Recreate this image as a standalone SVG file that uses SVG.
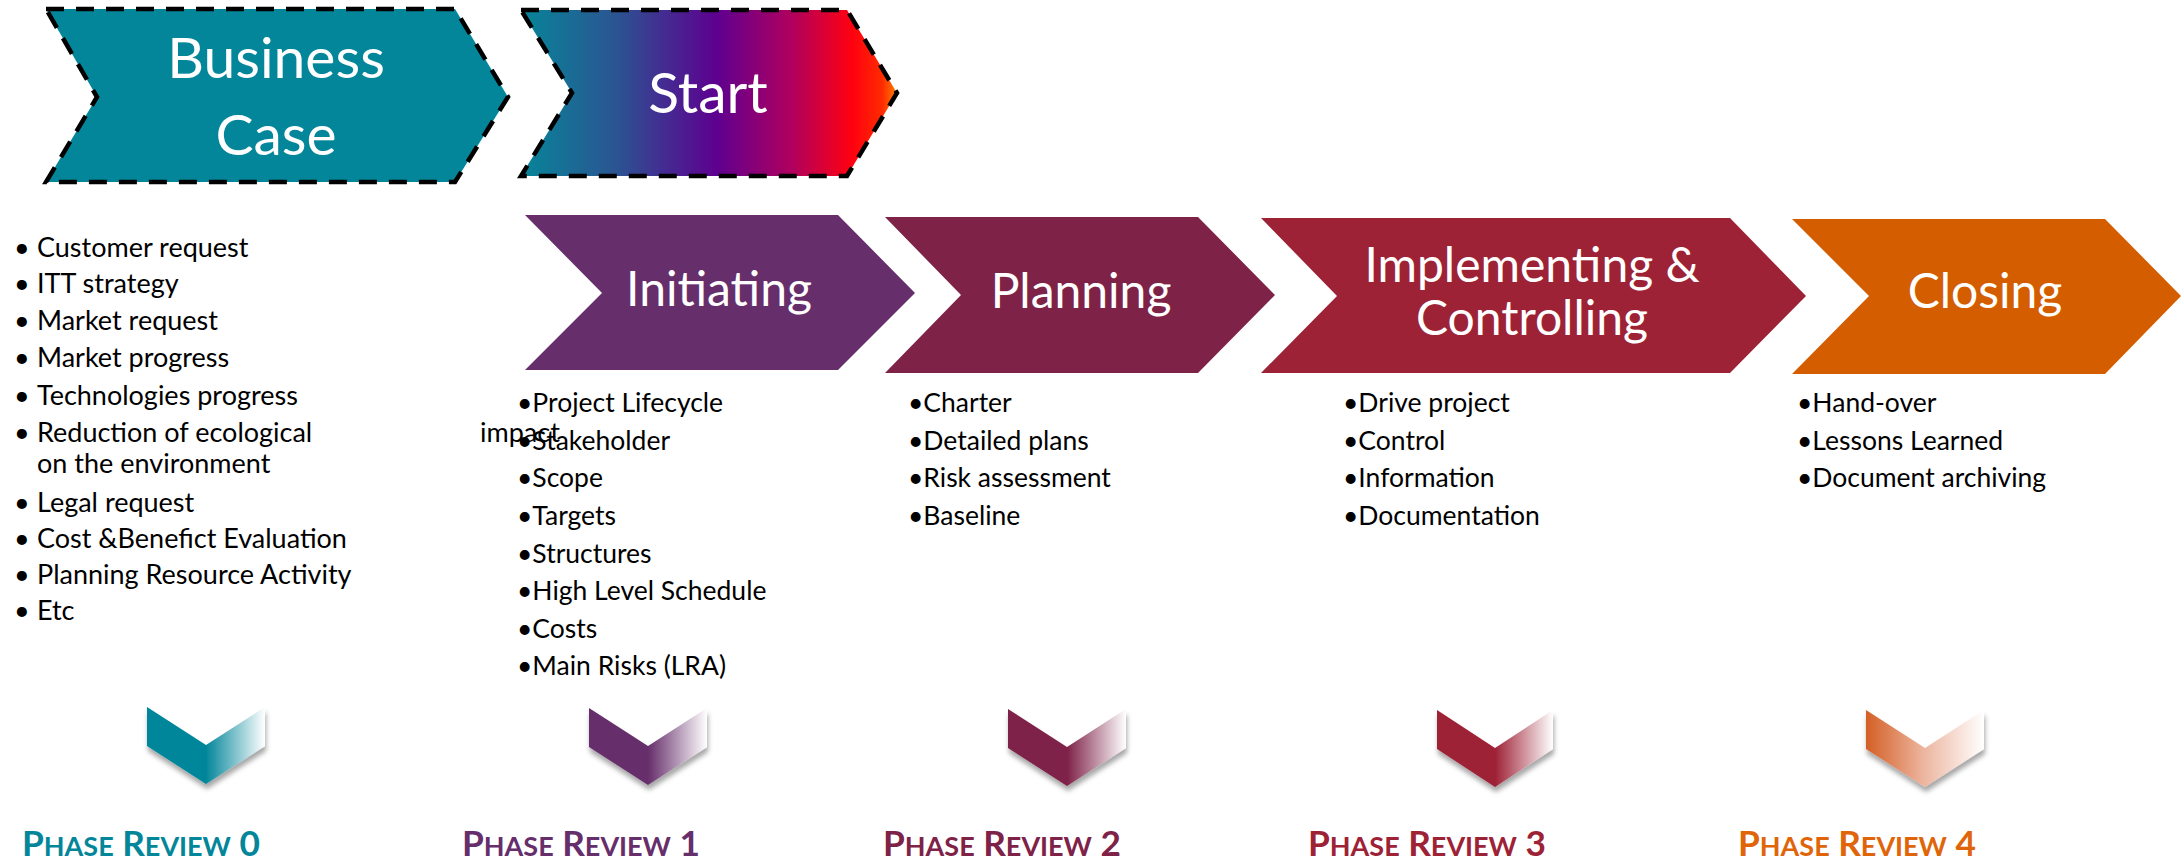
<svg xmlns="http://www.w3.org/2000/svg" width="2181" height="863" viewBox="0 0 2181 863">
<defs>
<linearGradient id="gStart" x1="0" y1="0" x2="1" y2="0">
<stop offset="0" stop-color="#078599"/>
<stop offset="0.25" stop-color="#2A5592"/>
<stop offset="0.52" stop-color="#5E0090"/>
<stop offset="0.72" stop-color="#B0005E"/>
<stop offset="0.88" stop-color="#FF0010"/>
<stop offset="0.96" stop-color="#FF2A00"/>
<stop offset="1" stop-color="#FF8000"/>
</linearGradient>
<linearGradient id="gPR0" x1="0" y1="0" x2="1" y2="0"><stop offset="0.5" stop-color="#03869A"/><stop offset="1" stop-color="#ffffff"/></linearGradient>
<linearGradient id="gPR1" x1="0" y1="0" x2="1" y2="0"><stop offset="0.5" stop-color="#662E6B"/><stop offset="1" stop-color="#ffffff"/></linearGradient>
<linearGradient id="gPR2" x1="0" y1="0" x2="1" y2="0"><stop offset="0.5" stop-color="#7E2248"/><stop offset="1" stop-color="#ffffff"/></linearGradient>
<linearGradient id="gPR3" x1="0" y1="0" x2="1" y2="0"><stop offset="0.5" stop-color="#9E2236"/><stop offset="1" stop-color="#ffffff"/></linearGradient>
<linearGradient id="gPR4" x1="0" y1="0" x2="1" y2="0"><stop offset="0" stop-color="#D45F25"/><stop offset="0.5" stop-color="#EDB7A2"/><stop offset="1" stop-color="#ffffff"/></linearGradient>
<filter id="shadow" x="-20%" y="-20%" width="140%" height="150%">
<feDropShadow dx="1" dy="5" stdDeviation="2.5" flood-color="#000" flood-opacity="0.35"/>
</filter>
</defs>
<style>
.dash{stroke:#000;stroke-width:4.5;stroke-dasharray:18 12;stroke-linejoin:miter}
.big{font-family:Lato,"Liberation Sans",sans-serif;fill:#fff;text-anchor:middle}
.t57{font-size:57px}
.t48{font-size:48px}
.list{font-family:Lato,"Liberation Sans",sans-serif;font-size:27px;fill:#000}
.list2{font-family:Lato,"Liberation Sans",sans-serif;font-size:26.5px;fill:#000}
.pr{font-family:Lato,"Liberation Sans",sans-serif;font-weight:bold;text-anchor:middle}
.pr .s{font-size:26px}
.pr .b{font-size:34px}
</style>
<rect width="2181" height="863" fill="#fff"/>
<g id="connectors"/>
<g id="node-business-case">
<polygon class="dash" fill="#03869A" points="46,9 455,9 508,97 455,182 46,182 97,97"/>
<text class="big t57" x="276" y="78">Business</text>
<text class="big t57" x="276" y="155">Case</text>
</g>
<g id="node-start">
<polygon class="dash" fill="url(#gStart)" points="521,10 847,10 897,93 847,176 521,176 572,93"/>
<text class="big t57" x="708" y="113">Start</text>
</g>
<g id="node-initiating">
<polygon fill="#662E6B" points="525,215 838,215 915,293 838,370 525,370 602,293"/>
<text class="big t48" x="719" y="306">Initiating</text>
</g>
<g id="node-planning">
<polygon fill="#7E2248" points="885,217 1198,217 1275,295 1198,373 885,373 961,295"/>
<text class="big t48" x="1081" y="308">Planning</text>
</g>
<g id="node-implementing">
<polygon fill="#9E2236" points="1261,218 1730,218 1806,296 1730,373 1261,373 1337,296"/>
<text class="big t48" x="1532" y="282">Implementing &amp;</text>
<text class="big t48" x="1532" y="335">Controlling</text>
</g>
<g id="node-closing">
<polygon fill="#D45D00" points="1792,219 2105,219 2181,296 2105,374 1792,374 1869,296"/>
<text class="big t48" x="1985" y="308">Closing</text>
</g>
<g id="list-business-case" class="list">
<text x="14" y="257">•</text><text x="37" y="257">Customer request</text>
<text x="14" y="293">•</text><text x="37" y="293">ITT strategy</text>
<text x="14" y="330">•</text><text x="37" y="330">Market request</text>
<text x="14" y="367">•</text><text x="37" y="367">Market progress</text>
<text x="14" y="405">•</text><text x="37" y="405">Technologies progress</text>
<text x="14" y="442">•</text><text x="37" y="442">Reduction of ecological</text>
<text x="37" y="473">on the environment</text>
<text x="14" y="512">•</text><text x="37" y="512">Legal request</text>
<text x="14" y="548">•</text><text x="37" y="548">Cost &amp;Benefict Evaluation</text>
<text x="14" y="584">•</text><text x="37" y="584">Planning Resource Activity</text>
<text x="14" y="620">•</text><text x="37" y="620">Etc</text>
<text x="480" y="442">impact</text>
</g>
<g id="list-initiating" class="list2">
<text x="517" y="412">•Project Lifecycle</text>
<text x="517" y="450">•Stakeholder</text>
<text x="517" y="487">•Scope</text>
<text x="517" y="525">•Targets</text>
<text x="517" y="563">•Structures</text>
<text x="517" y="600">•High Level Schedule</text>
<text x="517" y="638">•Costs</text>
<text x="517" y="675">•Main Risks (LRA)</text>
</g>
<g id="list-planning" class="list2">
<text x="908" y="412">•Charter</text>
<text x="908" y="450">•Detailed plans</text>
<text x="908" y="487">•Risk assessment</text>
<text x="908" y="525">•Baseline</text>
</g>
<g id="list-implementing" class="list2">
<text x="1343" y="412">•Drive project</text>
<text x="1343" y="450">•Control</text>
<text x="1343" y="487">•Information</text>
<text x="1343" y="525">•Documentation</text>
</g>
<g id="list-closing" class="list2">
<text x="1797" y="412">•Hand-over</text>
<text x="1797" y="450">•Lessons Learned</text>
<text x="1797" y="487">•Document archiving</text>
</g>
<g id="phase-review-0">
<polygon filter="url(#shadow)" fill="url(#gPR0)" points="147,707 206,745 265,707 265,746 206,784 147,746"/>
<text class="pr" x="141" y="856" fill="#03869A" textLength="238" lengthAdjust="spacingAndGlyphs"><tspan class="b">P</tspan><tspan class="s">HASE</tspan><tspan class="b"> R</tspan><tspan class="s">EVIEW</tspan><tspan class="b"> 0</tspan></text>
</g>
<g id="phase-review-1">
<polygon filter="url(#shadow)" fill="url(#gPR1)" points="589,708 648,746 707,708 707,747 648,785 589,747"/>
<text class="pr" x="581" y="856" fill="#662E6B" textLength="238" lengthAdjust="spacingAndGlyphs"><tspan class="b">P</tspan><tspan class="s">HASE</tspan><tspan class="b"> R</tspan><tspan class="s">EVIEW</tspan><tspan class="b"> 1</tspan></text>
</g>
<g id="phase-review-2">
<polygon filter="url(#shadow)" fill="url(#gPR2)" points="1008,709 1067,747 1126,709 1126,748 1067,786 1008,748"/>
<text class="pr" x="1002" y="856" fill="#7E2248" textLength="238" lengthAdjust="spacingAndGlyphs"><tspan class="b">P</tspan><tspan class="s">HASE</tspan><tspan class="b"> R</tspan><tspan class="s">EVIEW</tspan><tspan class="b"> 2</tspan></text>
</g>
<g id="phase-review-3">
<polygon filter="url(#shadow)" fill="url(#gPR3)" points="1437,710 1495,748 1553,710 1553,749 1495,787 1437,749"/>
<text class="pr" x="1427" y="856" fill="#9E2236" textLength="238" lengthAdjust="spacingAndGlyphs"><tspan class="b">P</tspan><tspan class="s">HASE</tspan><tspan class="b"> R</tspan><tspan class="s">EVIEW</tspan><tspan class="b"> 3</tspan></text>
</g>
<g id="phase-review-4">
<polygon filter="url(#shadow)" fill="url(#gPR4)" points="1866,710 1925,748 1984,710 1984,749 1925,787 1866,749"/>
<text class="pr" x="1857" y="856" fill="#E0650A" textLength="238" lengthAdjust="spacingAndGlyphs"><tspan class="b">P</tspan><tspan class="s">HASE</tspan><tspan class="b"> R</tspan><tspan class="s">EVIEW</tspan><tspan class="b"> 4</tspan></text>
</g>
</svg>
